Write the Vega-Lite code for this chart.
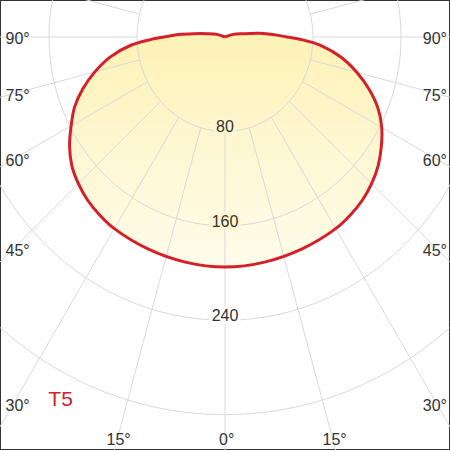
{
  "$schema": "https://vega.github.io/schema/vega-lite/v6.json",
  "width": 450,
  "height": 450,
  "autosize": {"type": "fit", "contains": "padding"},
  "padding": 0,
  "background": "white",
  "view": {"stroke": "#333333", "strokeWidth": 2},
  "config": {"font": "Liberation Sans"},
  "datasets": {
    "curve": [
      {"a": -180, "v": 0},
      {"a": -108, "v": 7.7},
      {"a": -100, "v": 17.3},
      {"a": -96, "v": 28.5},
      {"a": -93, "v": 42},
      {"a": -90, "v": 55.5},
      {"a": -88, "v": 68},
      {"a": -85, "v": 86},
      {"a": -80, "v": 106.4},
      {"a": -75, "v": 122.5},
      {"a": -70, "v": 137.5},
      {"a": -65, "v": 150.9},
      {"a": -60, "v": 161.5},
      {"a": -55, "v": 172.5},
      {"a": -50, "v": 181.8},
      {"a": -45, "v": 188.5},
      {"a": -40, "v": 194},
      {"a": -35, "v": 198},
      {"a": -30, "v": 201.2},
      {"a": -20, "v": 205},
      {"a": -10, "v": 207.8},
      {"a": 0, "v": 209.1},
      {"a": 10, "v": 207.8},
      {"a": 20, "v": 205},
      {"a": 30, "v": 201.2},
      {"a": 35, "v": 198},
      {"a": 40, "v": 194},
      {"a": 45, "v": 188.5},
      {"a": 50, "v": 181.8},
      {"a": 55, "v": 173.5},
      {"a": 60, "v": 164.5},
      {"a": 65, "v": 153.5},
      {"a": 70, "v": 139.5},
      {"a": 75, "v": 124},
      {"a": 80, "v": 107.5},
      {"a": 85, "v": 87.3},
      {"a": 88, "v": 70},
      {"a": 90, "v": 56.4},
      {"a": 93, "v": 43.6},
      {"a": 96, "v": 31.8},
      {"a": 100, "v": 17.3},
      {"a": 108, "v": 7.7},
      {"a": 180, "v": 0}
    ],
    "grid": [{"v": 80}, {"v": 160}, {"v": 240}, {"v": 320}],
    "spokes": [
      {"a": -105}, {"a": -90}, {"a": -75}, {"a": -60}, {"a": -45}, {"a": -30}, {"a": -15},
      {"a": 0}, {"a": 15}, {"a": 30}, {"a": 45}, {"a": 60}, {"a": 75}, {"a": 90}, {"a": 105}
    ],
    "values": [{"v": 80}, {"v": 160}, {"v": 240}],
    "angles": [
      {"t": "90°", "a": 90, "p": "L"},
      {"t": "75°", "a": 75, "p": "L"},
      {"t": "60°", "a": 60, "p": "L"},
      {"t": "45°", "a": 45, "p": "L"},
      {"t": "30°", "a": 30, "p": "L"},
      {"t": "90°", "a": 90, "p": "R"},
      {"t": "75°", "a": 75, "p": "R"},
      {"t": "60°", "a": 60, "p": "R"},
      {"t": "45°", "a": 45, "p": "R"},
      {"t": "30°", "a": 30, "p": "R"},
      {"t": "15°", "a": -15, "p": "B"},
      {"t": "0°", "a": 0, "p": "B"},
      {"t": "15°", "a": 15, "p": "B"}
    ]
  },
  "layer": [
    {
      "data": {"name": "curve"},
      "transform": [
        {"calculate": "datum.v*sin(datum.a*PI/180)", "as": "x"},
        {"calculate": "-datum.v*cos(datum.a*PI/180)", "as": "y"}
      ],
      "mark": {
        "type": "line",
        "interpolate": "catmull-rom",
        "strokeWidth": 0,
        "stroke": "transparent",
        "fill": {
          "gradient": "linear",
          "x1": 0, "y1": 0, "x2": 0, "y2": 1,
          "stops": [
            {"offset": 0, "color": "#fdf2b4"},
            {"offset": 0.5, "color": "#fef7d2"},
            {"offset": 1, "color": "#fffcea"}
          ]
        }
      },
      "encoding": {
        "x": {"field": "x", "type": "quantitative", "scale": {"domain": [-204.545, 204.545], "nice": false, "zero": false}, "axis": null},
        "y": {"field": "y", "type": "quantitative", "scale": {"domain": [-375.455, 33.636], "nice": false, "zero": false}, "axis": null},
        "order": {"field": "a", "type": "quantitative"}
      }
    },
    {
      "data": {"name": "grid"},
      "mark": {
        "type": "point",
        "shape": "M1,0C1,0.5926 0.5523,1.073 0,1.073C-0.5523,1.073 -1,0.5926 -1,0C-1,-0.5926 -0.5523,-1.073 0,-1.073C0.5523,-1.073 1,-0.5926 1,0Z",
        "filled": false,
        "stroke": "#d9d9d9",
        "strokeWidth": 1,
        "opacity": 1,
        "clip": true
      },
      "encoding": {
        "x": {"datum": 0, "type": "quantitative"},
        "y": {"datum": 0, "type": "quantitative"},
        "size": {"field": "v", "type": "quantitative", "scale": {"type": "pow", "exponent": 2, "domain": [0, 320], "range": [0, 495616]}, "legend": null}
      }
    },
    {
      "data": {"name": "spokes"},
      "transform": [
        {"calculate": "datum.a*PI/180", "as": "r"},
        {"calculate": "80/sqrt(pow(sin(datum.r),2)+pow(cos(datum.r)/1.073,2))", "as": "r0"},
        {"calculate": "datum.r0*sin(datum.r)", "as": "x"},
        {"calculate": "-datum.r0*cos(datum.r)", "as": "y"},
        {"calculate": "700*sin(datum.r)", "as": "x2"},
        {"calculate": "-700*cos(datum.r)", "as": "y2"}
      ],
      "mark": {"type": "rule", "stroke": "#d9d9d9", "strokeWidth": 1, "clip": true},
      "encoding": {
        "x": {"field": "x", "type": "quantitative"},
        "y": {"field": "y", "type": "quantitative"},
        "x2": {"field": "x2"},
        "y2": {"field": "y2"}
      }
    },
    {
      "data": {"name": "curve"},
      "transform": [
        {"calculate": "datum.v*sin(datum.a*PI/180)", "as": "x"},
        {"calculate": "-datum.v*cos(datum.a*PI/180)", "as": "y"}
      ],
      "mark": {"type": "line", "interpolate": "catmull-rom", "stroke": "#d42028", "strokeWidth": 3, "strokeJoin": "round"},
      "encoding": {
        "x": {"field": "x", "type": "quantitative"},
        "y": {"field": "y", "type": "quantitative"},
        "order": {"field": "a", "type": "quantitative"}
      }
    },
    {
      "data": {"name": "values"},
      "transform": [{"calculate": "-(datum.v*1.073)+3.6", "as": "y"}],
      "mark": {"type": "text", "fontSize": 16, "baseline": "middle", "align": "center", "strokeWidth": 6, "fill": "transparent"},
      "encoding": {
        "x": {"datum": 0, "type": "quantitative"},
        "y": {"field": "y", "type": "quantitative"},
        "text": {"field": "v"},
        "stroke": {"condition": {"test": "datum.v == 240", "value": "#ffffff"}, "value": "#fef6d0"}
      }
    },
    {
      "data": {"name": "values"},
      "transform": [{"calculate": "-(datum.v*1.073)+3.6", "as": "y"}],
      "mark": {"type": "text", "fontSize": 16, "baseline": "middle", "align": "center", "fill": "#333333"},
      "encoding": {
        "x": {"datum": 0, "type": "quantitative"},
        "y": {"field": "y", "type": "quantitative"},
        "text": {"field": "v"}
      }
    },
    {
      "data": {"name": "angles"},
      "transform": [
        {"filter": "datum.p == 'L'"},
        {"calculate": "-199.5", "as": "x"},
        {"calculate": "-193/tan(datum.a*PI/180)-1.5", "as": "y"}
      ],
      "mark": {"type": "text", "fontSize": 16, "baseline": "middle", "align": "left", "fill": "#333333"},
      "encoding": {
        "x": {"field": "x", "type": "quantitative"},
        "y": {"field": "y", "type": "quantitative"},
        "text": {"field": "t"}
      }
    },
    {
      "data": {"name": "angles"},
      "transform": [
        {"filter": "datum.p == 'R'"},
        {"calculate": "201.8", "as": "x"},
        {"calculate": "-193/tan(datum.a*PI/180)-1.5", "as": "y"}
      ],
      "mark": {"type": "text", "fontSize": 16, "baseline": "middle", "align": "right", "fill": "#333333"},
      "encoding": {
        "x": {"field": "x", "type": "quantitative"},
        "y": {"field": "y", "type": "quantitative"},
        "text": {"field": "t"}
      }
    },
    {
      "data": {"name": "angles"},
      "transform": [
        {"filter": "datum.p == 'B'"},
        {"calculate": "366.4*tan(datum.a*PI/180)+1.5", "as": "x"},
        {"calculate": "-366.4", "as": "y"}
      ],
      "mark": {"type": "text", "fontSize": 16, "baseline": "middle", "align": "center", "fill": "#333333"},
      "encoding": {
        "x": {"field": "x", "type": "quantitative"},
        "y": {"field": "y", "type": "quantitative"},
        "text": {"field": "t"}
      }
    },
    {
      "data": {"values": [{"t": "T5"}]},
      "mark": {"type": "text", "fontSize": 21, "baseline": "middle", "align": "center", "fill": "#d42028"},
      "encoding": {
        "x": {"datum": -149.5, "type": "quantitative"},
        "y": {"datum": -330, "type": "quantitative"},
        "text": {"field": "t"}
      }
    }
  ]
}
